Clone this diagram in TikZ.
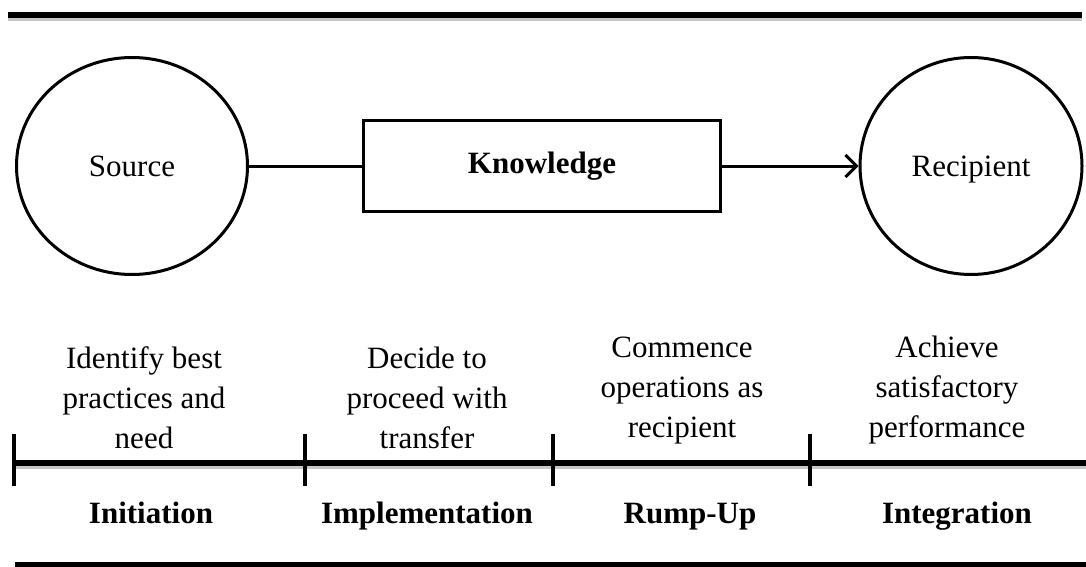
\documentclass[tikz,border=0pt]{standalone}
\usepackage{fontspec}
\setmainfont{Liberation Serif}
\usetikzlibrary{shapes.geometric,arrows.meta}

\tikzset{
  party/.style={ellipse, draw, line width=3pt, inner sep=0pt,
                text height=21pt, text depth=0pt,
                font=\fontsize{31}{40}\selectfont},
  itembox/.style={rectangle, draw, line width=3.5pt, inner sep=0pt,
                  minimum width=357pt, minimum height=91pt,
                  font=\fontsize{31}{40}\selectfont\bfseries},
  conn/.style={line width=3pt},
  rule/.style={line width=6pt,
               preaction={draw=black!22, line width=5pt,
                          transform canvas={yshift=-3.5pt}}},
  tickmark/.style={line width=3.5pt},
  stage/.style={inner sep=0pt, anchor=base,
                font=\fontsize{31}{40}\selectfont},
  phase/.style={inner sep=0pt, anchor=base,
                font=\fontsize{31}{40}\selectfont\bfseries},
}

\begin{document}
\begin{tikzpicture}[x=1pt, y=-1pt]
  \useasboundingbox (0,0) rectangle (1086,567);

  % horizontal rules framing the figure
  \coordinate (topL) at (8,15);
  \coordinate (topR) at (1082,15);
  \coordinate (botL) at (15,565);
  \coordinate (botR) at (1090,565);
  \draw[rule] (topL) -- (topR);
  \draw[rule] (botL) -- (botR);

  % source -> knowledge -> recipient
  \node[party, minimum width=231pt, minimum height=217pt] (source) at (132,166) {Source};
  \node[itembox] (know) at (542,166) {Knowledge};
  \node[party, minimum width=222pt, minimum height=217pt] (recipient) at (971,166) {Recipient};
  \draw[conn] (source) -- (know);
  \draw[conn, -{Straight Barb[length=11pt, width=22pt, line width=3pt]}] (know) -- (recipient);

  % timeline with stage boundaries
  \coordinate (t0) at (14,463);
  \coordinate (t1) at (305,463);
  \coordinate (t2) at (553,463);
  \coordinate (t3) at (810,463);
  \coordinate (tend) at (1090,463);
  \draw[rule] (t0) -- (tend);
  \foreach \t in {t0,t1,t2,t3}
    \draw[tickmark] ([yshift=29pt]\t) -- ([yshift=-23pt]\t);

  % activities of each stage
  \node[stage] (s1) at (144,368) {\begin{tabular}[t]{@{}c@{}}Identify best\\practices and\\need\end{tabular}};
  \node[stage] (s2) at (427,368) {\begin{tabular}[t]{@{}c@{}}Decide to\\proceed with\\transfer\end{tabular}};
  \node[stage] (s3) at (682,357) {\begin{tabular}[t]{@{}c@{}}Commence\\operations as\\recipient\end{tabular}};
  \node[stage] (s4) at (947,357) {\begin{tabular}[t]{@{}c@{}}Achieve\\satisfactory\\performance\end{tabular}};

  % stage names
  \node[phase] (p1) at (151,523) {Initiation};
  \node[phase] (p2) at (427,523) {Implementation};
  \node[phase] (p3) at (690,523) {Rump-Up};
  \node[phase] (p4) at (957,523) {Integration};
\end{tikzpicture}
\end{document}
